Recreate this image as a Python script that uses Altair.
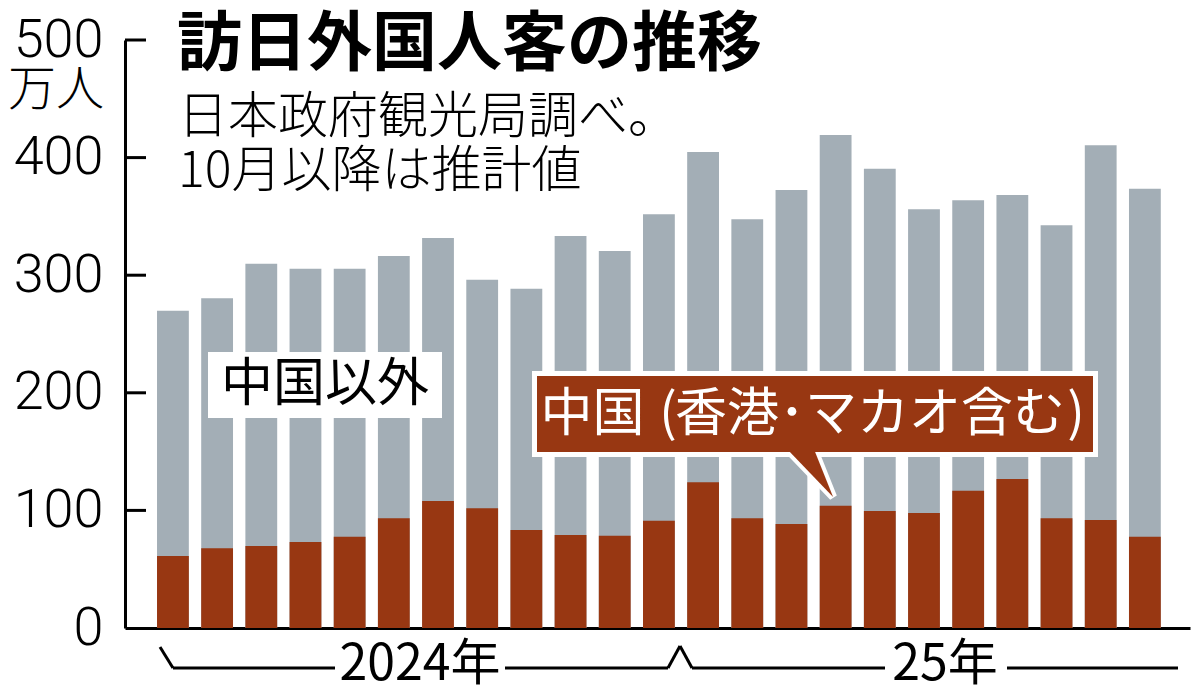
import altair as alt
import pandas as pd

months = ["2024-01", "2024-02", "2024-03", "2024-04", "2024-05", "2024-06",
          "2024-07", "2024-08", "2024-09", "2024-10", "2024-11", "2024-12",
          "2025-01", "2025-02", "2025-03", "2025-04", "2025-05", "2025-06",
          "2025-07", "2025-08", "2025-09", "2025-10", "2025-11"]
total = [269.8, 280.4, 309.8, 305.5, 305.5, 316.3, 331.6, 296.2, 288.5, 333.3, 320.6, 351.8,
         404.8, 347.5, 372.4, 419.2, 390.6, 356.0, 363.7, 368.2, 342.4, 410.5, 373.6]
china = [61.2, 67.8, 69.7, 73.1, 77.6, 93.3, 108.0, 101.8, 83.3, 79.0, 78.5, 91.2,
         123.9, 93.3, 88.4, 104.0, 99.5, 97.8, 116.8, 126.7, 93.3, 91.8, 77.6]
tick_values = [0, 100, 200, 300, 400, 500]

title_text = ["訪日外国人客の推移"]
sub1_text = ["日本政府観光局調べ。"]
sub2_text = ["10月以降は推計値"]
unit_text = ["万人"]
other_label = ["中国以外"]
china_label_parts = ["中国", "(", "香港･マカオ含む", ")"]
year1_label = ["2024年"]
year2_label = ["25年"]

GREY = "#a3aeb6"
BROWN = "#983712"
JP = "Noto Sans CJK JP"
NUM = "Roboto"

df = pd.DataFrame({"month": months, "total": total, "china": china})

yscale = alt.Scale(domain=[0, 500], nice=False, zero=True)
yaxis = alt.Axis(values=tick_values, ticks=False, grid=False, title=None,
                 domainColor="black", domainWidth=3,
                 labelFontSize=54, labelFont=NUM, labelFontWeight=300,
                 labelColor="black", labelPadding=22)
xenc = alt.X("month:N", sort=months,
             scale=alt.Scale(paddingInner=0.28, paddingOuter=0.693, align=0.523),
             axis=alt.Axis(labels=False, ticks=False, title=None,
                           domainColor="black", domainWidth=3))

grey = alt.Chart(df).mark_bar(color=GREY).encode(
    x=xenc,
    y=alt.Y("total:Q", scale=yscale, axis=yaxis),
)
brown = alt.Chart(df).mark_bar(color=BROWN).encode(
    x=xenc,
    y=alt.Y("china:Q", scale=yscale, axis=yaxis),
)

ticks = alt.Chart(pd.DataFrame({"v": tick_values[1:]})).mark_rule(
    color="black", strokeWidth=3).encode(
    y=alt.Y("v:Q", scale=yscale, axis=yaxis),
    x=alt.value(0), x2=alt.value(21))


def txt(values, x, y, size, weight="normal", color="black", align="left", font=JP):
    return alt.Chart(pd.DataFrame({"t": values})).mark_text(
        align=align, baseline="middle", fontSize=size, font=font,
        fontWeight=weight, color=color).encode(
        text="t:N", x=alt.value(x), y=alt.value(y))


def box(x1, x2, y1, y2, fill, stroke=None, sw=0):
    kw = dict(fill=fill)
    if stroke:
        kw.update(stroke=stroke, strokeWidth=sw)
    return alt.Chart(pd.DataFrame({"t": [0]})).mark_rect(**kw).encode(
        x=alt.value(x1), x2=alt.value(x2), y=alt.value(y1), y2=alt.value(y2))


def seg(x1, y1, x2, y2):
    return alt.Chart(pd.DataFrame({"t": [0]})).mark_rule(
        color="black", strokeWidth=3).encode(
        x=alt.value(x1), x2=alt.value(x2), y=alt.value(y1), y2=alt.value(y2))


POINTER = "M -0.96 -1 L 0.16 -1 L 0.96 1 Z"


def pointer(stroke=None, sw=0):
    kw = dict(shape=POINTER, size=2025, filled=True, fill=BROWN, opacity=1)
    if stroke:
        kw.update(stroke=stroke, strokeWidth=sw, strokeOpacity=1)
    else:
        kw.update(strokeWidth=0)
    return alt.Chart(pd.DataFrame({"t": [0]})).mark_point(**kw).encode(
        x=alt.value(686.5), y=alt.value(434.5))


label_y = 375
label_x = [467.5, 543, 745, 951]
china_label_layers = [
    txt([part], lx, label_y, 52, color="white", align="center")
    for part, lx in zip(china_label_parts, label_x)
]

layers = [
    grey, brown, ticks,
    txt(title_text, 52, 5, 65, weight="bold"),
    txt(sub1_text, 53, 78, 50, weight=300),
    txt(sub2_text, 53, 132, 50, weight=300),
    txt(unit_text, -21, 51, 48, weight=300, align="right"),
    box(83, 317, 312, 378, "white"),
    txt(other_label, 200, 345, 52, align="center"),
    box(412, 968, 336, 412, BROWN, stroke="white", sw=10),
    pointer(stroke="white", sw=8),
    box(412, 968, 336, 412, BROWN),
    pointer(),
    *china_label_layers,
    seg(35, 607, 48, 628),
    seg(48, 628, 210, 628),
    seg(380, 628, 543, 628),
    seg(543, 628, 555, 606),
    seg(555, 606, 567, 628),
    seg(567, 628, 760, 628),
    seg(882, 628, 1053, 628),
    txt(year1_label, 295, 625, 50, align="center"),
    txt(year2_label, 820, 625, 50, align="center"),
]

chart = alt.layer(*layers).properties(
    width=1065, height=588,
    autosize=alt.AutoSizeParams(type="none"),
    padding={"left": 117, "top": 32, "right": 2, "bottom": 64},
    background="white",
).configure_view(stroke=None)

chart.save("out.html", embed_options={"renderer": "svg", "actions": False})
